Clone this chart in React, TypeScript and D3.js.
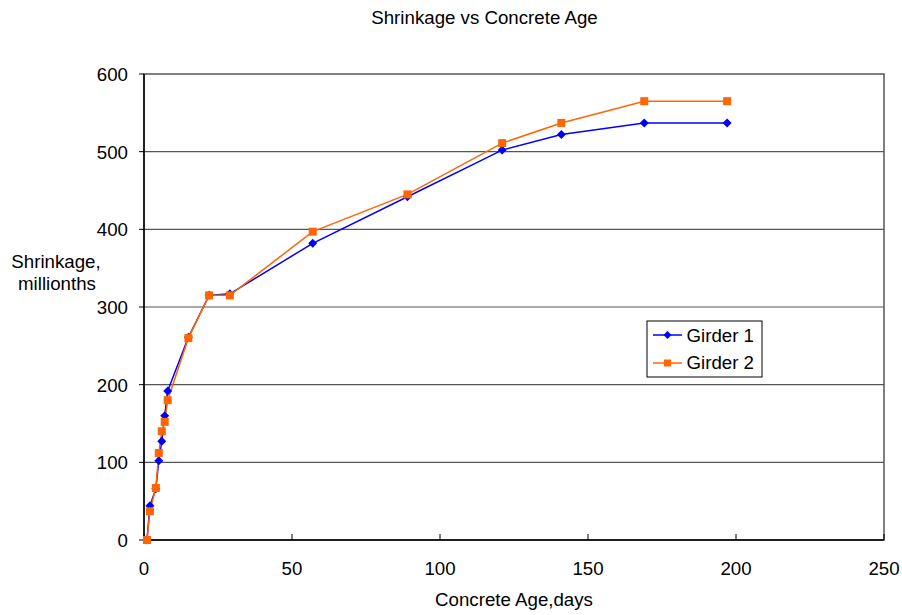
import React from "react";
import * as d3 from "d3";

const days = [1, 2, 4, 5, 6, 7, 8, 15, 22, 29, 57, 89, 121, 141, 169, 197];
const girder1 = [0, 44, 66, 102, 127, 160, 192, 261, 315, 317, 382, 442, 502, 522, 537, 537];
const girder2 = [0, 37, 67, 112, 140, 152, 180, 260, 315, 315, 397, 445, 511, 537, 565, 565];
const xTicks = [0, 50, 100, 150, 200, 250];
const yTicks = [0, 100, 200, 300, 400, 500, 600];
const seriesNames = ["Girder 1", "Girder 2"];

const FONT = "'Liberation Sans', Arial, sans-serif";
const BLUE = "#0000FF";
const ORANGE = "#FF6600";
const FS = 18.7;

export default function App() {
  const W = 902, H = 615;
  const left = 144, right = 884, top = 74, bottom = 540;
  const x = d3.scaleLinear().domain([0, 250]).range([left, right]);
  const y = d3.scaleLinear().domain([0, 600]).range([bottom, top]);
  const line = d3.line<[number, number]>().x(d => x(d[0])).y(d => y(d[1]));
  const s1 = days.map((d, i) => [d, girder1[i]] as [number, number]);
  const s2 = days.map((d, i) => [d, girder2[i]] as [number, number]);
  const diamond = (cx: number, cy: number, r: number) =>
    `M${cx},${cy - r}L${cx + r},${cy}L${cx},${cy + r}L${cx - r},${cy}Z`;

  return (
    <svg width={W} height={H} style={{ position: "absolute", left: 0, top: 0, background: "#fff" }} fontFamily={FONT}>
      <text x={484.5} y={24} textAnchor="middle" fontSize={FS}>Shrinkage vs Concrete Age</text>
      {yTicks.filter(t => t > 0 && t < 600).map(t => (
        <line key={"g" + t} x1={left} x2={right} y1={y(t)} y2={y(t)} stroke="#555" strokeWidth={1.2} />
      ))}
      <rect x={left} y={top} width={right - left} height={bottom - top} fill="none" stroke="#555" strokeWidth={1.5} />
      <line x1={left} x2={left} y1={top} y2={bottom} stroke="#000" strokeWidth={1.5} />
      <line x1={left} x2={right} y1={bottom} y2={bottom} stroke="#000" strokeWidth={1.5} />
      {yTicks.map(t => (
        <g key={"y" + t}>
          <line x1={left - 5} x2={left} y1={y(t)} y2={y(t)} stroke="#000" />
          <text x={left - 16} y={y(t) + 7} textAnchor="end" fontSize={FS}>{t}</text>
        </g>
      ))}
      {xTicks.map(t => (
        <g key={"x" + t}>
          <line x1={x(t)} x2={x(t)} y1={bottom - 6} y2={bottom} stroke="#000" />
          <text x={x(t)} y={bottom + 35} textAnchor="middle" fontSize={FS}>{t}</text>
        </g>
      ))}
      <text x={514} y={606} textAnchor="middle" fontSize={FS}>Concrete Age,days</text>
      <text x={56} y={268} textAnchor="middle" fontSize={FS}>Shrinkage,</text>
      <text x={57} y={290} textAnchor="middle" fontSize={FS}>millionths</text>

      <path d={line(s1) || ""} fill="none" stroke={BLUE} strokeWidth={1.5} />
      <path d={line(s2) || ""} fill="none" stroke={ORANGE} strokeWidth={1.5} />
      {s1.map((p, i) => (
        <path key={"d" + i} d={diamond(x(p[0]), y(p[1]), 4.5)} fill={BLUE} />
      ))}
      {s2.map((p, i) => (
        <rect key={"s" + i} x={x(p[0]) - 4} y={y(p[1]) - 4} width={8} height={8} fill={ORANGE} />
      ))}

      <rect x={647} y={321} width={115} height={56} fill="#fff" stroke="#000" strokeWidth={1} />
      <line x1={653} x2={682} y1={335} y2={335} stroke={BLUE} strokeWidth={1.5} />
      <path d={diamond(667.5, 335, 4)} fill={BLUE} />
      <text x={686.5} y={341.5} fontSize={FS}>{seriesNames[0]}</text>
      <line x1={653} x2={682} y1={363} y2={363} stroke={ORANGE} strokeWidth={1.5} />
      <rect x={664} y={359.5} width={7} height={7} fill={ORANGE} />
      <text x={686.5} y={369} fontSize={FS}>{seriesNames[1]}</text>
    </svg>
  );
}
